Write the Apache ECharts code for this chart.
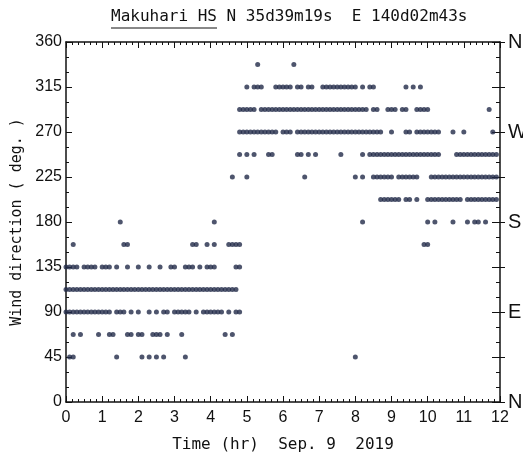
<!DOCTYPE html>
<html>
<head>
<meta charset="utf-8">
<script src="https://cdn.jsdelivr.net/npm/echarts@6/dist/echarts.min.js"></script>
<style>
  html, body { margin: 0; padding: 0; background: #fff; }
  #chart { width: 523px; height: 458px; }
</style>
</head>
<body>
<div id="chart"></div>
<script>
// wind direction classes (deg), 16-point compass
const directions = [45, 67.5, 90, 112.5, 135, 157.5, 180, 202.5, 225, 247.5, 270, 292.5, 315, 337.5];

const t45 = [0.1, 0.2, 1.4, 2.1, 2.3, 2.5, 2.7, 3.3, 8.0];
const t67 = [0.2, 0.4, 0.9, 1.2, 1.3, 1.7, 1.8, 2.0, 2.1, 2.4, 2.5, 2.6, 2.8, 3.2, 4.4, 4.6];
const t90 = [0.0, 0.1, 0.2, 0.3, 0.4, 0.5, 0.6, 0.7, 0.8, 0.9, 1.0, 1.1, 1.2, 1.4, 1.5, 1.6, 1.8, 2.0,
  2.3, 2.5, 2.7, 2.8, 3.0, 3.1, 3.2, 3.3, 3.4, 3.6, 3.8, 3.9, 4.0, 4.1, 4.2, 4.3, 4.5, 4.7, 4.8];
const t112 = [0.0, 0.1, 0.2, 0.3, 0.4, 0.5, 0.6, 0.7, 0.8, 0.9, 1.0, 1.1, 1.2, 1.3, 1.4, 1.5, 1.6, 1.7,
  1.8, 1.9, 2.0, 2.1, 2.2, 2.3, 2.4, 2.5, 2.6, 2.7, 2.8, 2.9, 3.0, 3.1, 3.2, 3.3, 3.4, 3.5, 3.6, 3.7,
  3.8, 3.9, 4.0, 4.1, 4.2, 4.3, 4.4, 4.5, 4.6, 4.7];
const t135 = [0.0, 0.1, 0.2, 0.3, 0.5, 0.6, 0.7, 0.8, 1.0, 1.1, 1.2, 1.4, 1.7, 2.0, 2.3, 2.6, 2.9, 3.0,
  3.3, 3.4, 3.5, 3.7, 3.9, 4.0, 4.1, 4.7, 4.8];
const t157 = [0.2, 1.6, 1.7, 3.5, 3.6, 3.9, 4.1, 4.5, 4.6, 4.7, 4.8, 9.9, 10.0];
const t180 = [1.5, 4.1, 8.2, 10.0, 10.2, 10.7, 11.1, 11.3, 11.4, 11.6];
const t202 = [8.7, 8.8, 8.9, 9.0, 9.1, 9.2, 9.4, 9.5, 9.7, 10.0, 10.1, 10.2, 10.3, 10.4, 10.5, 10.6,
  10.7, 10.8, 10.9, 11.1, 11.2, 11.3, 11.4, 11.5, 11.6, 11.7, 11.8, 11.9];
const t225 = [4.6, 5.0, 6.6, 8.0, 8.2, 8.5, 8.6, 8.7, 8.8, 8.9, 9.0, 9.2, 9.3, 9.4, 9.5, 9.6, 9.7,
  10.1, 10.2, 10.3, 10.4, 10.5, 10.6, 10.7, 10.8, 10.9, 11.0, 11.1, 11.2, 11.3, 11.4, 11.5, 11.6, 11.7, 11.8, 11.9];
const t247 = [4.8, 5.0, 5.2, 5.6, 5.7, 6.4, 6.5, 6.7, 6.9, 7.6, 8.2, 8.4, 8.5, 8.6, 8.7, 8.8, 8.9,
  9.0, 9.1, 9.2, 9.3, 9.4, 9.5, 9.6, 9.7, 9.8, 9.9, 10.0, 10.1, 10.2, 10.3,
  10.8, 10.9, 11.0, 11.1, 11.2, 11.3, 11.4, 11.5, 11.6, 11.7, 11.8, 11.9];
const t270 = [4.8, 4.9, 5.0, 5.1, 5.2, 5.3, 5.4, 5.5, 5.6, 5.7, 5.8, 6.0, 6.1, 6.2, 6.4, 6.5, 6.6,
  6.7, 6.8, 6.9, 7.0, 7.1, 7.2, 7.3, 7.4, 7.5, 7.6, 7.7, 7.8, 7.9, 8.0, 8.1, 8.2, 8.3, 8.4, 8.5, 8.6,
  8.7, 9.0, 9.4, 9.5, 9.7, 9.8, 9.9, 10.0, 10.1, 10.2, 10.3, 10.7, 11.0, 11.8];
const t292 = [4.8, 4.9, 5.0, 5.1, 5.2, 5.4, 5.5, 5.6, 5.7, 5.8, 5.9, 6.0, 6.1, 6.2, 6.3, 6.4, 6.5,
  6.6, 6.7, 6.8, 6.9, 7.0, 7.1, 7.2, 7.3, 7.4, 7.5, 7.6, 7.7, 7.8, 7.9, 8.0, 8.1, 8.2, 8.3, 8.5, 8.6,
  8.9, 9.0, 9.1, 9.3, 9.4, 9.7, 9.8, 9.9, 10.0, 11.7];
const t315 = [5.0, 5.2, 5.3, 5.4, 5.8, 5.9, 6.0, 6.1, 6.2, 6.4, 6.5, 6.7, 6.8, 7.1, 7.2, 7.3, 7.4,
  7.5, 7.6, 7.7, 7.8, 7.9, 8.0, 8.2, 8.4, 8.5, 9.4, 9.6, 9.8];
const t337 = [5.3, 6.3];

const timesByDir = [t45, t67, t90, t112, t135, t157, t180, t202, t225, t247, t270, t292, t315, t337];

// compass letters on the right axis
const compass = { 0: 'N', 90: 'E', 180: 'S', 270: 'W', 360: 'N' };

const points = [];
directions.forEach((d, i) => {
  timesByDir[i].forEach(t => points.push([t, d]));
});

const sans = "'Liberation Sans', Arial, sans-serif";
const mono = "'DejaVu Sans Mono', 'Liberation Mono', monospace";
const ink = '#111';

const chart = echarts.init(document.getElementById('chart'));

chart.setOption({
  backgroundColor: '#fff',
  animation: false,
  title: {
    text: 'Makuhari HS N 35d39m19s  E 140d02m43s',
    left: 111,
    top: 9,
    padding: 0,
    textStyle: { fontFamily: mono, fontSize: 16, fontWeight: 'normal', color: ink }
  },
  graphic: [{
    type: 'line',
    shape: { x1: 111, y1: 28, x2: 217, y2: 28 },
    style: { stroke: ink, lineWidth: 1 }
  }],
  grid: { left: 66, right: 23, top: 42, bottom: 56, outerBoundsMode: 'none' },
  xAxis: [{
    type: 'value',
    min: 0, max: 12, interval: 1,
    name: 'Time (hr)  Sep. 9  2019',
    nameLocation: 'middle',
    nameGap: 35,
    nameTextStyle: { fontFamily: mono, fontSize: 16, color: ink },
    axisLine: { onZero: false, lineStyle: { color: ink, width: 1.5 } },
    axisTick: { inside: true, length: 6, lineStyle: { color: ink } },
    minorTick: { show: true, splitNumber: 6, length: 3, lineStyle: { color: ink } },
    axisLabel: { fontFamily: sans, fontSize: 16, color: ink, margin: 8 },
    splitLine: { show: false }
  }, {
    type: 'value',
    position: 'top',
    min: 0, max: 12, interval: 1,
    axisLine: { onZero: false, lineStyle: { color: ink, width: 1.5 } },
    axisTick: { inside: true, length: 6, lineStyle: { color: ink } },
    minorTick: { show: true, splitNumber: 6, length: 3, lineStyle: { color: ink } },
    axisLabel: { show: false },
    splitLine: { show: false }
  }],
  yAxis: [{
    type: 'value',
    min: 0, max: 360, interval: 45,
    name: 'Wind direction ( deg. )',
    nameLocation: 'middle',
    nameGap: 38,
    nameTextStyle: { fontFamily: mono, fontSize: 15, color: ink },
    axisLine: { onZero: false, lineStyle: { color: ink, width: 1.5 } },
    axisTick: { inside: true, length: 6, lineStyle: { color: ink } },
    minorTick: { show: true, splitNumber: 3, length: 3, lineStyle: { color: ink } },
    axisLabel: { fontFamily: sans, fontSize: 16, color: ink, margin: 4 },
    splitLine: { show: false }
  }, {
    type: 'value',
    position: 'right',
    min: 0, max: 360, interval: 45,
    axisLine: { show: true, onZero: false, lineStyle: { color: ink, width: 1.5 } },
    axisTick: { inside: true, length: 8, lineStyle: { color: ink } },
    minorTick: { show: true, splitNumber: 3, length: 4, lineStyle: { color: ink } },
    axisLabel: {
      fontFamily: sans, fontSize: 20, color: ink, margin: 8,
      formatter: v => compass[v] || ''
    },
    splitLine: { show: false }
  }, {
    type: 'value',
    position: 'right',
    min: 0, max: 360, interval: 45,
    axisLine: { show: false, onZero: false },
    axisTick: { inside: false, length: 5, lineStyle: { color: ink } },
    axisLabel: { show: false },
    splitLine: { show: false }
  }],
  series: [{
    type: 'scatter',
    xAxisIndex: 0,
    yAxisIndex: 0,
    symbol: 'circle',
    symbolSize: 5,
    itemStyle: { color: '#222a48' },
    data: points
  }]
});
</script>
</body>
</html>
